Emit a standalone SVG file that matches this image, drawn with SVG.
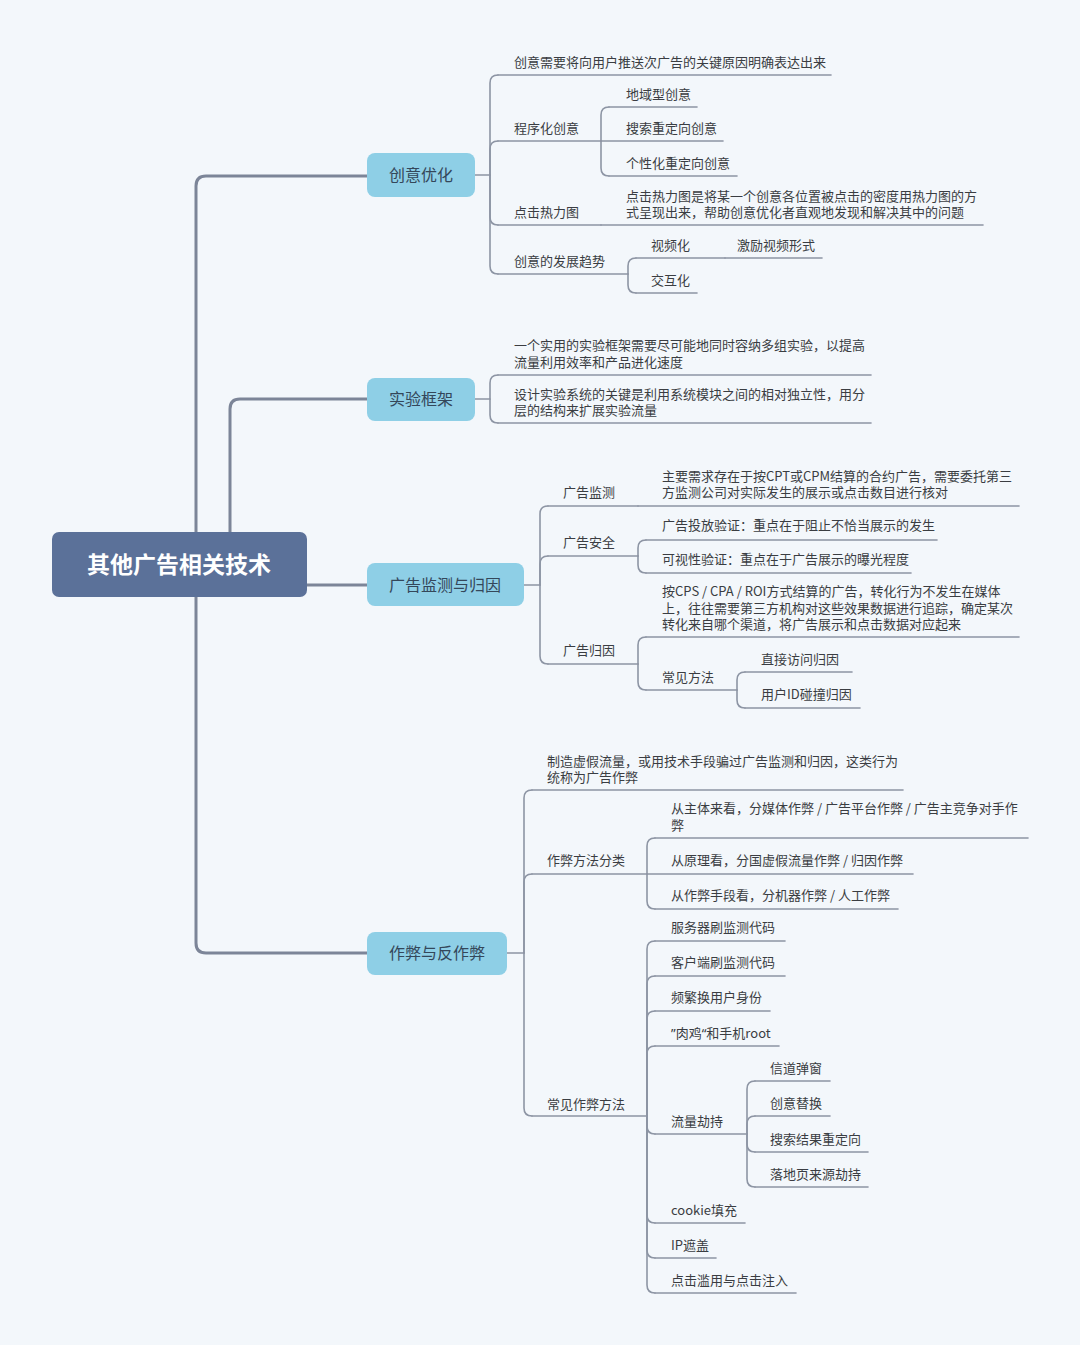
<svg xmlns="http://www.w3.org/2000/svg" width="1080" height="1345" viewBox="0 0 1080 1345">
<style>
.bg{fill:#f3f7fb}
.main{fill:none;stroke:#7c8598;stroke-width:3;stroke-linecap:round;stroke-linejoin:round}
.sub{fill:none;stroke:#8d95a4;stroke-width:1.6;stroke-linecap:round}
.ul{stroke:#8d95a4;stroke-width:1.6;stroke-linecap:round}
.root{fill:#5b7199}
.l1{fill:#8ecfe6}
.rt{font-family:"Noto Sans CJK SC","Noto Sans",sans-serif;font-size:23px;font-weight:bold;fill:#ffffff;text-anchor:middle}
.t1{font-family:"Noto Sans CJK SC","Noto Sans",sans-serif;font-size:16px;fill:#34475a;text-anchor:middle}
.t{font-family:"Noto Sans CJK SC","Noto Sans",sans-serif;font-size:13px;fill:#3a3d42}
.q{font-family:"Noto Sans",sans-serif}
</style>
<rect class="bg" x="0" y="0" width="1080" height="1345"/>
<g id="connectors">
<path class="main" d="M196,532 V186 Q196,176 206,176 H367"/>
<path class="main" d="M230,532 V409 Q230,399 240,399 H367"/>
<path class="main" d="M307,585 H367"/>
<path class="main" d="M196,597 V943 Q196,953 206,953 H367"/>
<path class="sub" d="M475,175 H490 V83 Q490,75 498,75"/>
<path class="sub" d="M490,175 V149 Q490,141 498,141"/>
<path class="sub" d="M490,175 V217 Q490,225 498,225"/>
<path class="sub" d="M490,175 V266 Q490,274 498,274"/>
<path class="sub" d="M601,141 V115 Q601,107 609,107"/>
<path class="sub" d="M601,141 V168 Q601,176 609,176"/>
<path class="sub" d="M628,274 V266 Q628,258 636,258"/>
<path class="sub" d="M628,274 V285 Q628,293 636,293"/>
<path class="sub" d="M475,399 H490 V383 Q490,375 498,375"/>
<path class="sub" d="M490,399 V415 Q490,423 498,423"/>
<path class="sub" d="M524,585 H540 V514 Q540,506 548,506"/>
<path class="sub" d="M540,585 V564 Q540,556 548,556"/>
<path class="sub" d="M540,585 V656 Q540,664 548,664"/>
<path class="sub" d="M638,556 V548 Q638,540 646,540"/>
<path class="sub" d="M638,556 V565 Q638,573 646,573"/>
<path class="sub" d="M638,664 V645 Q638,637 646,637"/>
<path class="sub" d="M638,664 V682 Q638,690 646,690"/>
<path class="sub" d="M737,690 V680 Q737,672 745,672"/>
<path class="sub" d="M737,690 V700 Q737,708 745,708"/>
<path class="sub" d="M507,953 H524 V798 Q524,790 532,790"/>
<path class="sub" d="M524,953 V882 Q524,874 532,874"/>
<path class="sub" d="M524,953 V1108 Q524,1116 532,1116"/>
<path class="sub" d="M647,874 V846 Q647,838 655,838"/>
<path class="sub" d="M647,874 V901 Q647,909 655,909"/>
<path class="sub" d="M647,1116 V949 Q647,941 655,941"/>
<path class="sub" d="M647,1116 V984 Q647,976 655,976"/>
<path class="sub" d="M647,1116 V1019 Q647,1011 655,1011"/>
<path class="sub" d="M647,1116 V1054 Q647,1046 655,1046"/>
<path class="sub" d="M647,1116 V1126 Q647,1134 655,1134"/>
<path class="sub" d="M647,1116 V1215 Q647,1223 655,1223"/>
<path class="sub" d="M647,1116 V1250 Q647,1258 655,1258"/>
<path class="sub" d="M647,1116 V1285 Q647,1293 655,1293"/>
<path class="sub" d="M747,1134 V1089 Q747,1081 755,1081"/>
<path class="sub" d="M747,1134 V1124 Q747,1116 755,1116"/>
<path class="sub" d="M747,1134 V1144 Q747,1152 755,1152"/>
<path class="sub" d="M747,1134 V1179 Q747,1187 755,1187"/>
</g>
<g id="root"><rect class="root" x="52" y="532" width="255" height="65" rx="7"/><text class="rt" x="179" y="573">其他广告相关技术</text></g>
<g id="n-chuangyi"><rect class="l1" x="367" y="153" width="108" height="44" rx="8"/><text class="t1" x="421" y="181">创意优化</text></g>
<g id="n-shiyan"><rect class="l1" x="367" y="378" width="108" height="43" rx="8"/><text class="t1" x="421" y="405">实验框架</text></g>
<g id="n-jiance"><rect class="l1" x="367" y="563" width="157" height="43" rx="8"/><text class="t1" x="445" y="591">广告监测与归因</text></g>
<g id="n-zuobi"><rect class="l1" x="367" y="932" width="140" height="43" rx="8"/><text class="t1" x="437" y="959">作弊与反作弊</text></g>

<g id="c1"><line class="ul" x1="498" y1="75" x2="831" y2="75"/><text class="t" x="514" y="67">创意需要将向用户推送次广告的关键原因明确表达出来</text></g>
<g id="c2"><line class="ul" x1="498" y1="141" x2="601" y2="141"/><text class="t" x="514" y="133">程序化创意</text></g>
<g id="c2a"><line class="ul" x1="609" y1="107" x2="697" y2="107"/><text class="t" x="626" y="99">地域型创意</text></g>
<g id="c2b"><line class="ul" x1="601" y1="141" x2="723" y2="141"/><text class="t" x="626" y="133">搜索重定向创意</text></g>
<g id="c2c"><line class="ul" x1="609" y1="176" x2="737" y2="176"/><text class="t" x="626" y="168">个性化重定向创意</text></g>
<g id="c3"><line class="ul" x1="498" y1="225" x2="601" y2="225"/><text class="t" x="514" y="217">点击热力图</text></g>
<g id="c3a"><line class="ul" x1="601" y1="225" x2="983" y2="225"/><text class="t" x="626" y="201">点击热力图是将某一个创意各位置被点击的密度用热力图的方<tspan x="626" dy="16">式呈现出来，帮助创意优化者直观地发现和解决其中的问题</tspan></text></g>
<g id="c4"><line class="ul" x1="498" y1="274" x2="628" y2="274"/><text class="t" x="514" y="266">创意的发展趋势</text></g>
<g id="c4a"><line class="ul" x1="636" y1="258" x2="725" y2="258"/><text class="t" x="651" y="250">视频化</text></g>
<g id="c4a1"><line class="ul" x1="725" y1="258" x2="822" y2="258"/><text class="t" x="737" y="250">激励视频形式</text></g>
<g id="c4b"><line class="ul" x1="636" y1="293" x2="697" y2="293"/><text class="t" x="651" y="285">交互化</text></g>

<g id="s1"><line class="ul" x1="498" y1="375" x2="871" y2="375"/><text class="t" x="514" y="350">一个实用的实验框架需要尽可能地同时容纳多组实验，以提高<tspan x="514" dy="17">流量利用效率和产品进化速度</tspan></text></g>
<g id="s2"><line class="ul" x1="498" y1="423" x2="871" y2="423"/><text class="t" x="514" y="399">设计实验系统的关键是利用系统模块之间的相对独立性，用分<tspan x="514" dy="16">层的结构来扩展实验流量</tspan></text></g>

<g id="m1"><line class="ul" x1="548" y1="506" x2="638" y2="506"/><text class="t" x="563" y="497">广告监测</text></g>
<g id="m1a"><line class="ul" x1="638" y1="506" x2="1019" y2="506"/><text class="t" x="662" y="481">主要需求存在于按CPT或CPM结算的合约广告，需要委托第三<tspan x="662" dy="16">方监测公司对实际发生的展示或点击数目进行核对</tspan></text></g>
<g id="m2"><line class="ul" x1="548" y1="556" x2="638" y2="556"/><text class="t" x="563" y="547">广告安全</text></g>
<g id="m2a"><line class="ul" x1="646" y1="540" x2="937" y2="540"/><text class="t" x="662" y="530">广告投放验证：重点在于阻止不恰当展示的发生</text></g>
<g id="m2b"><line class="ul" x1="646" y1="573" x2="911" y2="573"/><text class="t" x="662" y="564">可视性验证：重点在于广告展示的曝光程度</text></g>
<g id="m3"><line class="ul" x1="548" y1="664" x2="638" y2="664"/><text class="t" x="563" y="655">广告归因</text></g>
<g id="m3a"><line class="ul" x1="646" y1="637" x2="1019" y2="637"/><text class="t" x="662" y="596">按CPS / CPA / ROI方式结算的广告，转化行为不发生在媒体<tspan x="662" dy="16.5">上，往往需要第三方机构对这些效果数据进行追踪，确定某次</tspan><tspan x="662" dy="16.5">转化来自哪个渠道，将广告展示和点击数据对应起来</tspan></text></g>
<g id="m3b"><line class="ul" x1="646" y1="690" x2="737" y2="690"/><text class="t" x="662" y="682">常见方法</text></g>
<g id="m3b1"><line class="ul" x1="745" y1="672" x2="852" y2="672"/><text class="t" x="761" y="664">直接访问归因</text></g>
<g id="m3b2"><line class="ul" x1="745" y1="708" x2="860" y2="708"/><text class="t" x="761" y="699">用户ID碰撞归因</text></g>

<g id="z1"><line class="ul" x1="532" y1="790" x2="903" y2="790"/><text class="t" x="547" y="766">制造虚假流量，或用技术手段骗过广告监测和归因，这类行为<tspan x="547" dy="16">统称为广告作弊</tspan></text></g>
<g id="z2"><line class="ul" x1="532" y1="874" x2="647" y2="874"/><text class="t" x="547" y="865">作弊方法分类</text></g>
<g id="z2a"><line class="ul" x1="655" y1="838" x2="1028" y2="838"/><text class="t" x="671" y="813">从主体来看，分媒体作弊 / 广告平台作弊 / 广告主竞争对手作<tspan x="671" dy="17">弊</tspan></text></g>
<g id="z2b"><line class="ul" x1="647" y1="874" x2="913" y2="874"/><text class="t" x="671" y="865">从原理看，分国虚假流量作弊 / 归因作弊</text></g>
<g id="z2c"><line class="ul" x1="655" y1="909" x2="898" y2="909"/><text class="t" x="671" y="900">从作弊手段看，分机器作弊 / 人工作弊</text></g>
<g id="z3"><line class="ul" x1="532" y1="1116" x2="647" y2="1116"/><text class="t" x="547" y="1109">常见作弊方法</text></g>
<g id="z3a"><line class="ul" x1="655" y1="941" x2="785" y2="941"/><text class="t" x="671" y="932">服务器刷监测代码</text></g>
<g id="z3b"><line class="ul" x1="655" y1="976" x2="785" y2="976"/><text class="t" x="671" y="967">客户端刷监测代码</text></g>
<g id="z3c"><line class="ul" x1="655" y1="1011" x2="770" y2="1011"/><text class="t" x="671" y="1002">频繁换用户身份</text></g>
<g id="z3d"><line class="ul" x1="655" y1="1046" x2="779" y2="1046"/><text class="t" x="671" y="1038"><tspan class="q">”</tspan>肉鸡<tspan class="q">“</tspan>和手机root</text></g>
<g id="z3e"><line class="ul" x1="655" y1="1134" x2="747" y2="1134"/><text class="t" x="671" y="1126">流量劫持</text></g>
<g id="z3e1"><line class="ul" x1="755" y1="1081" x2="830" y2="1081"/><text class="t" x="770" y="1073">信道弹窗</text></g>
<g id="z3e2"><line class="ul" x1="755" y1="1116" x2="830" y2="1116"/><text class="t" x="770" y="1108">创意替换</text></g>
<g id="z3e3"><line class="ul" x1="755" y1="1152" x2="868" y2="1152"/><text class="t" x="770" y="1144">搜索结果重定向</text></g>
<g id="z3e4"><line class="ul" x1="755" y1="1187" x2="868" y2="1187"/><text class="t" x="770" y="1179">落地页来源劫持</text></g>
<g id="z3f"><line class="ul" x1="655" y1="1223" x2="745" y2="1223"/><text class="t" x="671" y="1215">cookie填充</text></g>
<g id="z3g"><line class="ul" x1="655" y1="1258" x2="716" y2="1258"/><text class="t" x="671" y="1250">IP遮盖</text></g>
<g id="z3h"><line class="ul" x1="655" y1="1293" x2="796" y2="1293"/><text class="t" x="671" y="1285">点击滥用与点击注入</text></g>
</svg>
